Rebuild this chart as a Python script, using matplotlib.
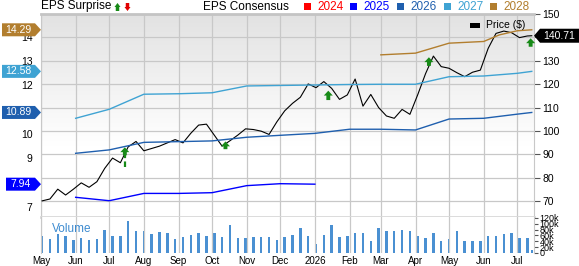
import numpy as np
import pandas as pd
import matplotlib
matplotlib.use("Agg")
import matplotlib.pyplot as plt
import matplotlib.dates as mdates
import matplotlib.transforms as mtransforms
from matplotlib.patches import Polygon, Rectangle
from matplotlib.colors import LinearSegmentedColormap

plt.rcParams['font.family'] = ['Liberation Sans', 'DejaVu Sans']

# weekly closing price and volume (k)
week_dates = list(pd.date_range('2025-05-02', periods=63, freq='7D')) + [pd.Timestamp('2026-07-14')]
price = [70.1, 70.9, 75.1, 72.6, 75.1, 77.8, 75.9, 78.3, 84.0, 88.4,
         86.4, 93.2, 95.5, 91.5, 92.5, 93.5, 94.9, 96.3, 94.9, 99.0,
         102.5, 102.9, 98.2, 93.5, 95.8, 98.2, 100.9, 100.6, 99.9, 98.5,
         103.9, 108.6, 111.8, 114.4, 120.1, 118.5, 121.1, 118.2, 113.5, 115.4,
         122.2, 110.6, 115.6, 110.0, 106.4, 105.4, 109.2, 107.1, 115.5, 124.5,
         132.0, 127.5, 126.8, 124.9, 123.2, 125.1, 126.0, 135.3, 141.7, 142.7,
         142.0, 139.9, 140.6, 140.71]
volume = [59, 48, 65, 57, 43, 51, 45, 48, 79, 59,
          57, 110, 75, 75, 65, 71, 68, 48, 56, 61,
          69, 59, 67, 54, 96, 51, 51, 56, 54, 54,
          43, 56, 62, 86, 57, 32, 62, 96, 54, 59,
          69, 70, 42, 85, 76, 74, 79, 74, 59, 52,
          68, 42, 49, 74, 42, 42, 40, 59, 59, 66,
          68, 52, 52, 11]

# EPS consensus by fiscal year
cons_dates = ['2025-06-01', '2025-07-01', '2025-08-01', '2025-09-01', '2025-10-01',
              '2025-11-01', '2025-12-01', '2026-01-01', '2026-02-01', '2026-03-01',
              '2026-04-01', '2026-05-01', '2026-06-01', '2026-07-01', '2026-07-14']
eps_2025 = [7.40, 7.26, 7.56, 7.56, 7.59, 7.88, 7.96, 7.94]
eps_2026 = [9.21, 9.35, 9.66, 9.69, 9.72, 9.87, 9.95, 10.03, 10.20, 10.20, 10.17, 10.62, 10.65, 10.82, 10.89]
eps_2027 = [10.65, 11.02, 11.64, 11.66, 11.70, 11.98, 12.00, 12.02, 12.04, 12.05, 12.05, 12.36, 12.39, 12.50, 12.58]
dates_2028 = ['2026-03-01', '2026-04-01', '2026-05-01', '2026-06-01', '2026-06-15', '2026-07-01', '2026-07-14']
eps_2028 = [13.26, 13.33, 13.74, 13.81, 14.08, 14.25, 14.29]

years = ['2024', '2025', '2026', '2027', '2028']
year_colors = ['#ff0000', '#0000ff', '#1f5fae', '#3fa3d3', '#b27e2e']

# EPS surprise arrows (price level of arrow top and stem base)
surprise_dates = ['2025-07-15', '2025-10-13', '2026-01-13', '2026-04-13', '2026-07-13']
surprise_top = [93.0, 95.5, 117.2, 131.5, 139.6]
surprise_base = [84.5, 92.2, 113.2, 127.8, 136.0]

W, H = 579, 266
fig = plt.figure(figsize=(W / 100, H / 100), dpi=100)
ax = fig.add_axes([41 / W, 1 - 217 / H, 493 / W, 203 / H])
axv = fig.add_axes([41 / W, 1 - 253 / H, 493 / W, 36 / H], sharex=ax)
ae = ax.twinx()

# background gradient
yy = np.linspace(0, 1, 256).reshape(-1, 1)
g = np.clip((yy - 0.35) / 0.65, 0, 1)
cm = LinearSegmentedColormap.from_list('bg', ['#ffffff', '#e2e2e2'])
ax.imshow(g, extent=[0, 1, 0, 1], transform=ax.transAxes, cmap=cm,
          aspect='auto', origin='lower', zorder=0)

ax.plot(week_dates, price, color='black', lw=0.8, zorder=3)

cd = pd.to_datetime(cons_dates)
ae.plot(cd[:len(eps_2025)], eps_2025, color=year_colors[1], lw=1.0)
ae.plot(cd, eps_2026, color=year_colors[2], lw=1.0)
ae.plot(cd, eps_2027, color=year_colors[3], lw=1.0)
ae.plot(pd.to_datetime(dates_2028), eps_2028, color=year_colors[4], lw=1.0)

green = '#178a17'
for d, top, base in zip(pd.to_datetime(surprise_dates), surprise_top, surprise_base):
    if top - base > 4:
        ax.plot([d, d], [base, top - 3], color=green, lw=1.6, ls=(0, (2.5, 1.5)), zorder=4)
        base = top - 3.4
    ax.annotate('', xy=(d, top), xytext=(d, base), xycoords='data',
                arrowprops=dict(arrowstyle='simple,head_length=0.35,head_width=0.65,tail_width=0.28',
                                fc=green, ec='none', shrinkA=0, shrinkB=0), zorder=5)

axv.bar(week_dates, volume, width=2.2, color='#4a90d2')
axv.text(0.022, 0.67, 'Volume', transform=axv.transAxes, color='#3d8bd0',
         fontsize=8.5, va='center')

start, end = pd.Timestamp('2025-05-01'), pd.Timestamp('2026-07-16')
ax.set_xlim(start, end)
ax.set_ylim(63.2, 150)
ae.set_ylim(6.59, 14.94)
axv.set_ylim(0, 123.4)

ax.xaxis.set_major_locator(mdates.MonthLocator())
axv.xaxis.set_major_formatter(plt.FuncFormatter(
    lambda v, p: mdates.num2date(v).strftime('%Y') if mdates.num2date(v).month == 1
    else mdates.num2date(v).strftime('%b')))
ax.tick_params(axis='x', labelbottom=False, length=0)
axv.tick_params(axis='x', length=0, labelsize=7, pad=2)

ax.set_yticks(range(70, 151, 10))
ax.yaxis.tick_right()
ax.tick_params(axis='y', length=4, color='#555555', labelsize=7.5, pad=2)
ax.grid(True, color='#c8c8c8', lw=0.9)
axv.grid(True, axis='x', color='#c8c8c8', lw=0.9)

ae.yaxis.tick_left()
ae.set_yticks(range(7, 15))
ae.tick_params(axis='y', length=0, labelsize=7.5, pad=6)

axv.set_yticks(range(0, 121, 20))
axv.set_yticklabels(['0', '20k', '40k', '60k', '80k', '100k', '120k'])
axv.yaxis.tick_right()
axv.tick_params(axis='y', length=3, color='#555555', labelsize=6.5, pad=1)

for s in ae.spines.values():
    s.set_visible(False)
ax.spines['top'].set_color('#c4c4c4')
ax.spines['top'].set_linewidth(2)
ax.spines['bottom'].set_color('#d8d8d8')
ax.spines['bottom'].set_linewidth(2)
for s in ['left', 'right']:
    ax.spines[s].set_color('#c8c8c8')
    axv.spines[s].set_color('#c8c8c8')
axv.spines['top'].set_visible(False)
axv.spines['bottom'].set_visible(False)

# value tags on the left
ident = mtransforms.IdentityTransform()
fig.canvas.draw()
tag_vals = [eps_2028[-1], eps_2027[-1], eps_2026[-1], eps_2025[-1]]
tag_cols = [year_colors[4], year_colors[3], year_colors[2], year_colors[1]]
for v, c in zip(tag_vals, tag_cols):
    x0, y0 = ae.transData.transform((mdates.date2num(start), v))
    txt = f'{v:.2f}'
    left = x0 - 39 if len(txt) > 4 else x0 - 35
    verts = [(left, y0 - 6.5), (x0 - 6, y0 - 6.5), (x0, y0), (x0 - 6, y0 + 6.5), (left, y0 + 6.5)]
    fig.add_artist(Polygon(verts, closed=True, fc=c, ec='none', transform=ident))
    fig.text((left + x0 - 6) / 2 / W, y0 / H, txt, color='white', fontsize=7.5,
             ha='center', va='center')

# last price tag
x1, y1 = ax.transData.transform((mdates.date2num(end), price[-1]))
verts = [(x1, y1), (x1 + 6, y1 - 7), (W, y1 - 7), (W, y1 + 7), (x1 + 6, y1 + 7)]
fig.add_artist(Polygon(verts, closed=True, fc='black', ec='none', transform=ident))
fig.text((x1 + 6 + W) / 2 / W, y1 / H, f'{price[-1]:.2f}', color='white',
         fontsize=7.5, ha='center', va='center')

# price legend
fig.add_artist(Rectangle((470 / W, 1 - 27.5 / H), 10 / W, 4.5 / H, fc='black', ec='none'))
fig.text(486 / W, 1 - 25.5 / H, 'Price ($)', fontsize=7.5, va='center')

# header
fig.text(41 / W, 1 - 6.5 / H, 'EPS Surprise', fontsize=8.5, va='center')
fig.add_artist(matplotlib.patches.FancyArrow(117.5 / W, 1 - 11 / H, 0, 8 / H, width=1.6 / H,
               head_width=6 / W, head_length=4 / H, fc=green, ec='none', length_includes_head=True))
fig.add_artist(matplotlib.patches.FancyArrow(127.5 / W, 1 - 3 / H, 0, -8 / H, width=1.6 / H,
               head_width=6 / W, head_length=4 / H, fc='#e00000', ec='none', length_includes_head=True))
fig.text(203 / W, 1 - 6.5 / H, 'EPS Consensus', fontsize=8.5, va='center')
for i, (yr, c) in enumerate(zip(years, year_colors)):
    x = 303.5 + i * 46.7
    fig.add_artist(Rectangle((x / W, 1 - 10 / H), 7 / W, 7 / H, fc=c, ec='none'))
    fig.text((x + 13.5) / W, 1 - 6.5 / H, yr, color=c, fontsize=8.5, va='center')

fig.savefig('out.png', dpi=100)
